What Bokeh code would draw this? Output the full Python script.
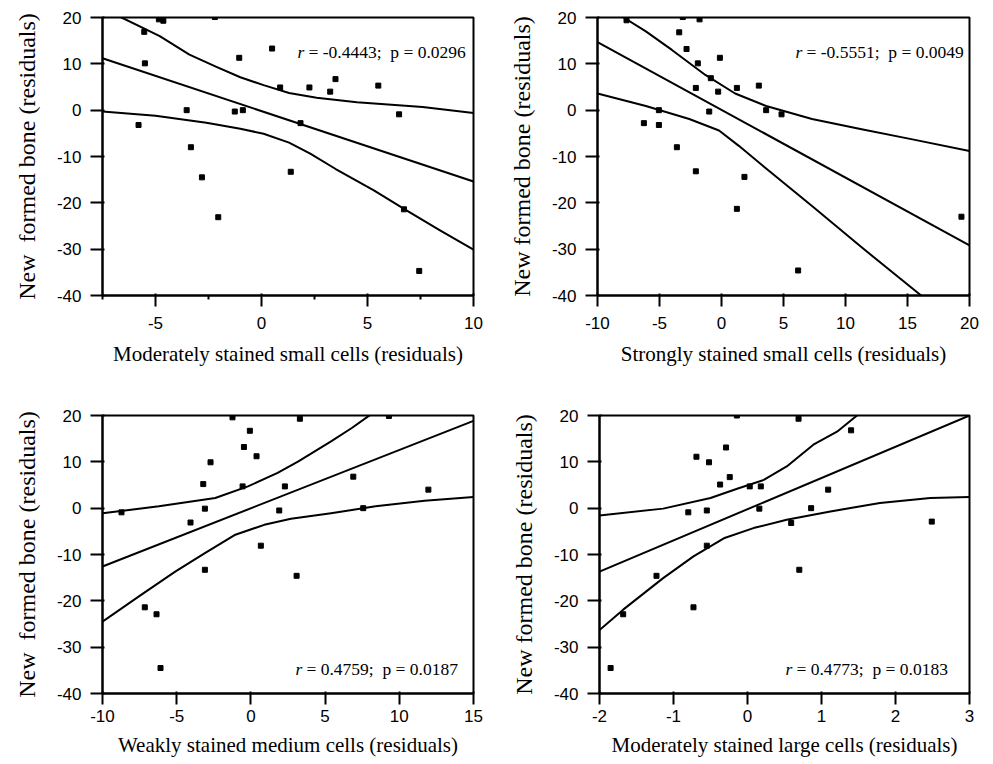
from bokeh.plotting import figure
from bokeh.layouts import column, row
from bokeh.models import FixedTicker, Label
from bokeh.embed import file_html
from bokeh.resources import INLINE

# ---------------- data ----------------
Y_TICKS = [-40, -30, -20, -10, 0, 10, 20]
Y_TITLE_WIDE = "New\u00a0 formed bone (residuals)"
Y_TITLE = "New formed bone (residuals)"

# Panel A: moderately stained small cells
a_x = [-4.84, -4.63, -2.2, -5.53, -5.5, 0.5, -1.05, 3.49, 5.51, 0.88, 2.26, 3.24,
       -3.53, -1.26, -0.88, 6.49, -5.8, 1.84, -3.33, -2.81, 1.38, -2.04, 6.72, 7.44]
a_y = [19.6, 19.3, 20.1, 16.9, 10.1, 13.3, 11.3, 6.7, 5.3, 4.9, 4.9, 4.0,
       0.0, -0.3, 0.0, -0.9, -3.2, -2.8, -8.0, -14.5, -13.3, -23.1, -21.4, -34.7]
a_up_x = [-7.5, -6.6, -4.8, -3.4, -2.1, -1.0, 0.1, 1.3, 2.6, 4.5, 7.6, 10.0]
a_up_y = [22.0, 20.0, 16.0, 12.0, 9.3, 7.1, 5.4, 3.7, 2.7, 1.7, 0.7, -0.6]
a_lo_x = [-7.5, -5.0, -2.6, -1.0, 0.1, 1.3, 2.3, 3.5, 5.3, 6.8, 8.4, 10.0]
a_lo_y = [-0.3, -1.2, -2.7, -4.0, -5.1, -7.0, -9.4, -12.7, -17.3, -21.5, -25.9, -30.1]
a_fit_x = [-7.5, 10]
a_fit_y = [11.2, -15.4]
a_xticks = [-5, 0, 5, 10]
a_xminor = [-7.5, -2.5, 2.5, 7.5]
a_xtitle = "Moderately stained small cells (residuals)"
a_stat = "= -0.4443;\u00a0 p = 0.0296"

# Panel B: strongly stained small cells
b_x = [-7.66, -3.12, -1.77, -3.41, -2.82, -1.91, -0.13, -0.86, -2.07, -0.27, 1.24, 3.01,
       -0.99, -5.05, 3.6, 4.84, -6.26, -5.05, -3.6, -2.07, 1.85, 1.24, 19.35, 6.18]
b_y = [19.4, 20.1, 19.6, 16.8, 13.2, 10.1, 11.3, 6.9, 4.8, 4.0, 4.8, 5.3,
       -0.3, 0.0, 0.0, -0.9, -2.8, -3.2, -8.0, -13.2, -14.4, -21.3, -23.0, -34.6]
b_up_x = [-10, -7.9, -6.1, -4.0, -1.3, 1.1, 3.6, 7.3, 11.3, 15.4, 20]
b_up_y = [25.0, 20.0, 17.0, 13.0, 7.6, 3.6, 0.9, -1.9, -4.1, -6.3, -8.8]
b_lo_x = [-10, -6.1, -2.6, -0.2, 1.4, 3.6, 7.3, 11.3, 16.1, 18.1]
b_lo_y = [3.6, 0.9, -1.9, -4.4, -7.7, -12.6, -20.7, -29.6, -40.0, -44.5]
b_fit_x = [-10, 20]
b_fit_y = [14.7, -29.2]
b_xticks = [-10, -5, 0, 5, 10, 15, 20]
b_xtitle = "Strongly stained small cells (residuals)"
b_stat = "= -0.5551;\u00a0 p = 0.0049"

# Panel C: weakly stained medium cells
c_x = [-1.24, 3.3, 9.3, -0.07, -0.47, 0.38, -2.72, -3.21, -0.56, 2.29, 6.9, 11.96,
       -8.72, -3.1, -4.07, 1.91, 7.57, 0.67, -3.1, 3.08, -7.15, -6.36, -6.09]
c_y = [19.6, 19.3, 19.9, 16.7, 13.2, 11.2, 9.9, 5.2, 4.7, 4.7, 6.8, 4.0,
       -0.9, -0.1, -3.1, -0.5, 0.0, -8.1, -13.3, -14.6, -21.4, -22.9, -34.5]
c_up_x = [-10, -6.2, -2.4, -0.2, 1.8, 3.2, 5.4, 6.8, 7.9, 9.5]
c_up_y = [-1.1, 0.4, 2.2, 4.7, 7.6, 10.1, 14.4, 17.3, 19.8, 23.0]
c_lo_x = [-10, -7.4, -5.1, -3.1, -1.1, 0.9, 2.7, 5.4, 8.4, 11.7, 15]
c_lo_y = [-24.5, -18.7, -13.7, -9.7, -5.8, -3.6, -2.3, -1.1, 0.4, 1.6, 2.4]
c_fit_x = [-10, 15]
c_fit_y = [-12.6, 18.85]
c_xticks = [-10, -5, 0, 5, 10, 15]
c_xtitle = "Weakly stained medium cells (residuals)"
c_stat = "= 0.4759;\u00a0 p = 0.0187"

# Panel D: moderately stained large cells
d_x = [-0.144, 0.69, 1.40, -0.29, -0.69, -0.52, -0.24, -0.37, 0.03, 0.18, 1.09,
       -0.8, -0.55, 0.16, 0.86, 0.59, 2.49, -0.55, 0.70, -1.23, -0.73, -1.68, -1.85]
d_y = [20.0, 19.3, 16.8, 13.1, 11.1, 9.9, 6.7, 5.1, 4.7, 4.7, 4.0,
       -0.9, -0.5, -0.1, 0.0, -3.2, -2.9, -8.1, -13.3, -14.6, -21.4, -22.9, -34.5]
d_up_x = [-2, -1.14, -0.5, -0.14, 0.22, 0.53, 0.89, 1.21, 1.48, 1.8]
d_up_y = [-1.6, -0.1, 2.2, 4.2, 6.1, 9.0, 13.7, 16.5, 20.0, 23.4]
d_lo_x = [-2, -1.68, -1.14, -0.73, -0.32, 0.08, 0.53, 1.12, 1.79, 2.47, 3]
d_lo_y = [-26.3, -21.9, -15.1, -10.4, -6.5, -4.3, -2.5, -0.7, 1.1, 2.2, 2.4]
d_fit_x = [-2, 3]
d_fit_y = [-13.7, 20.0]
d_xticks = [-2, -1, 0, 1, 2, 3]
d_xtitle = "Moderately stained large cells (residuals)"
d_stat = "= 0.4773;\u00a0 p = 0.0183"


def fmt(v):
    return str(int(v)) if float(v).is_integer() else str(v)


def make_panel(xs, ys, ux, uy, lx, ly, fx, fy, xr, xmaj, xmin, xtitle, ytitle, stat,
               ann_x, ann_y, width, height, mb, top_row):
    p = figure(width=width, height=height, x_range=xr, y_range=(-40, 20),
               output_backend="svg", toolbar_location=None,
               min_border_left=mb[0], min_border_right=mb[1],
               min_border_top=mb[2], min_border_bottom=mb[3])
    p.grid.visible = False
    p.outline_line_color = "black"
    p.outline_line_width = 2
    p.outline_line_alpha = 1.0

    p.line(fx, fy, line_color="black", line_width=2)
    p.line(ux, uy, line_color="black", line_width=2, line_join="round")
    p.line(lx, ly, line_color="black", line_width=2, line_join="round")
    p.scatter(xs, ys, marker="square", size=5, fill_color="black", line_color="black")

    p.xaxis.ticker = FixedTicker(ticks=xmaj, minor_ticks=xmin)
    p.yaxis.ticker = FixedTicker(ticks=Y_TICKS)
    p.xaxis.major_label_overrides = {v: fmt(v) for v in xmaj}
    p.yaxis.major_label_overrides = {v: fmt(v) for v in Y_TICKS}

    p.axis.axis_line_color = "black"
    p.axis.axis_line_width = 2
    p.axis.major_tick_line_color = "black"
    p.axis.minor_tick_line_color = "black"
    p.axis.major_tick_line_width = 2
    p.axis.minor_tick_line_width = 2
    p.axis.major_label_text_font = "Liberation Sans"
    p.axis.major_label_text_font_size = "17px"
    p.axis.major_label_text_color = "black"
    p.axis.axis_label_text_font = "Liberation Serif"
    p.axis.axis_label_text_font_style = "normal"
    p.axis.axis_label_text_color = "black"

    p.xaxis.major_tick_out = 11
    p.xaxis.minor_tick_out = 4
    p.yaxis.major_tick_out = 12
    p.xaxis.axis_label = xtitle
    p.yaxis.axis_label = ytitle
    p.xaxis.axis_label_text_font_size = "21px"
    p.yaxis.axis_label_text_font_size = "24px"
    p.yaxis.major_label_standoff = 9
    p.yaxis.axis_label_standoff = 14
    if top_row:
        p.xaxis.major_label_standoff = 10
        p.xaxis.axis_label_standoff = 10
    else:
        p.xaxis.major_label_standoff = 5
        p.xaxis.axis_label_standoff = 8

    p.add_layout(Label(x=ann_x, y=ann_y, x_units="screen", y_units="screen", text="r",
                       text_font="Liberation Serif", text_font_style="italic",
                       text_font_size="17.5px", text_baseline="alphabetic",
                       text_color="black"))
    p.add_layout(Label(x=ann_x + 11, y=ann_y, x_units="screen", y_units="screen",
                       text=stat, text_font="Liberation Serif",
                       text_font_size="17.5px", text_baseline="alphabetic",
                       text_color="black"))
    return p


p1 = make_panel(a_x, a_y, a_up_x, a_up_y, a_lo_x, a_lo_y, a_fit_x, a_fit_y, (-7.5, 10),
                a_xticks, a_xminor, a_xtitle, Y_TITLE_WIDE, a_stat, 195, 244,
                495, 390, (102, 22, 17, 95), True)
p2 = make_panel(b_x, b_y, b_up_x, b_up_y, b_lo_x, b_lo_y, b_fit_x, b_fit_y, (-10, 20),
                b_xticks, [], b_xtitle, Y_TITLE, b_stat, 198, 244,
                490, 390, (102, 16, 17, 95), True)
p3 = make_panel(c_x, c_y, c_up_x, c_up_y, c_lo_x, c_lo_y, c_fit_x, c_fit_y, (-10, 15),
                c_xticks, [], c_xtitle, Y_TITLE_WIDE, c_stat, 193, 25,
                495, 374, (102, 22, 25, 71), False)
p4 = make_panel(d_x, d_y, d_up_x, d_up_y, d_lo_x, d_lo_y, d_fit_x, d_fit_y, (-2, 3),
                d_xticks, [], d_xtitle, Y_TITLE, d_stat, 186, 25,
                490, 374, (104, 16, 25, 71), False)

layout = column(row(p1, p2), row(p3, p4))
open("out.html", "w").write(file_html(layout, INLINE))
